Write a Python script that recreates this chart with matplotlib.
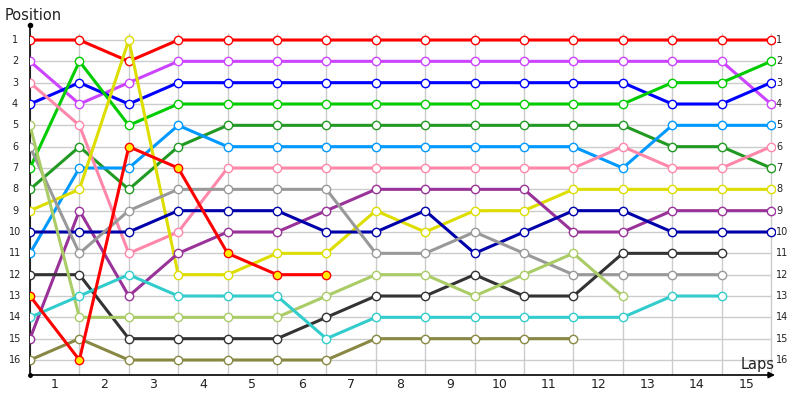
import matplotlib
matplotlib.use("Agg")
import matplotlib.pyplot as plt
import numpy as np

# lap boundaries 0..15, positions 1..16
laps = list(range(16))
lap_labels = [str(i) for i in range(1, 16)]
positions = list(range(1, 17))

# each driver: (line colour, marker fill, positions per lap boundary)
red_lead = [1, 1, 2, 1, 1, 1, 1, 1, 1, 1, 1, 1, 1, 1, 1, 1]
violet = [2, 4, 3, 2, 2, 2, 2, 2, 2, 2, 2, 2, 2, 2, 2, 4]
blue = [4, 3, 4, 3, 3, 3, 3, 3, 3, 3, 3, 3, 3, 4, 4, 3]
green = [7, 2, 5, 4, 4, 4, 4, 4, 4, 4, 4, 4, 4, 3, 3, 2]
dark_green = [8, 6, 8, 6, 5, 5, 5, 5, 5, 5, 5, 5, 5, 6, 6, 7]
sky = [11, 7, 7, 5, 6, 6, 6, 6, 6, 6, 6, 6, 7, 5, 5, 5]
pink = [3, 5, 11, 10, 7, 7, 7, 7, 7, 7, 7, 7, 6, 7, 7, 6]
yellow = [9, 8, 1, 12, 12, 11, 11, 9, 10, 9, 9, 8, 8, 8, 8, 8]
plum = [15, 9, 13, 11, 10, 10, 9, 8, 8, 8, 8, 10, 10, 9, 9, 9]
navy = [10, 10, 10, 9, 9, 9, 10, 10, 9, 11, 10, 9, 9, 10, 10, 10]
grey = [6, 11, 9, 8, 8, 8, 8, 11, 11, 10, 11, 12, 12, 12, 12]
charcoal = [12, 12, 15, 15, 15, 15, 14, 13, 13, 12, 13, 13, 11, 11, 11]
lime = [5, 14, 14, 14, 14, 14, 13, 12, 12, 13, 12, 11, 13]
teal = [14, 13, 12, 13, 13, 13, 15, 14, 14, 14, 14, 14, 14, 13, 13]
olive = [16, 15, 16, 16, 16, 16, 16, 15, 15, 15, 15, 15]
red_retired = [13, 16, 6, 7, 11, 12, 12]

series = [
    ("#ff0000", "white", red_lead),
    ("#cc44ff", "white", violet),
    ("#0000ff", "white", blue),
    ("#00cc00", "white", green),
    ("#229922", "white", dark_green),
    ("#0099ff", "white", sky),
    ("#ff88aa", "white", pink),
    ("#dddd00", "white", yellow),
    ("#993399", "white", plum),
    ("#0000aa", "white", navy),
    ("#999999", "white", grey),
    ("#333333", "white", charcoal),
    ("#aacc66", "white", lime),
    ("#33cccc", "white", teal),
    ("#888844", "white", olive),
    ("#ff0000", "#ffee00", red_retired),
]

fig = plt.figure(figsize=(8, 4), dpi=100)
# x: lap 0 at 30px, lap 15 at 771px; y: pos 1 at 40px, pos 16 at 360px
px_x = (771 - 30) / 15
px_y = (360 - 40) / 15
ax = fig.add_axes([30 / 800, 25 / 400, 745 / 800, 350 / 400])
ax.set_xlim(0, 745 / px_x)
ax.set_ylim(16 + 15 / px_y, 1 - 15 / px_y)

# grid
ax.hlines(positions, 0, laps[-1], color="#cccccc", lw=1, zorder=1)
ax.vlines(laps, 1 - 7 / px_y, 16 + 15 / px_y, color="#cccccc", lw=1, zorder=1)

for i, (col, fill, vals) in enumerate(series):
    ax.plot(laps[:len(vals)], vals, color=col, lw=2.2, marker="o", ms=6,
            mfc=fill, mec=col, mew=1.0, zorder=3 + i * 0.01, solid_joinstyle="round")

for s in ax.spines.values():
    s.set_visible(False)
ax.set_xticks([])
ax.set_yticks([])

# axes with arrows
ax.annotate("", xy=(1.0, 0), xytext=(0, 0), xycoords="axes fraction",
            arrowprops=dict(arrowstyle="-|>", color="black", lw=1.2,
                            mutation_scale=9, shrinkA=0, shrinkB=0))
ax.plot([0, 0], [0, 1], transform=ax.transAxes, color="black", lw=1.2,
        clip_on=False)
ax.plot([0], [1], transform=ax.transAxes, marker="o", ms=3, color="black",
        clip_on=False)
ax.plot([0], [0], transform=ax.transAxes, marker="o", ms=2.5, color="black",
        clip_on=False)

for p in positions:
    ax.text(-15 / px_x, p, str(p), ha="center", va="center", fontsize=7,
            color="#222222", clip_on=False)
    ax.text(laps[-1] + 5 / px_x, p, str(p), ha="left", va="center", fontsize=7,
            color="#222222", clip_on=False)

for i, lab in enumerate(lap_labels):
    ax.text(i + 0.5, 16 + 25 / px_y, lab, ha="center", va="center",
            fontsize=9, color="#222222", clip_on=False)

fig.text(5 / 800, 1 - 15 / 400, "Position", fontsize=10.5, ha="left",
         va="center", color="#222222")
fig.text(775 / 800, 1 - 365 / 400, "Laps", fontsize=10.5, ha="right",
         va="center", color="#222222")

fig.savefig("out.png", dpi=100)
